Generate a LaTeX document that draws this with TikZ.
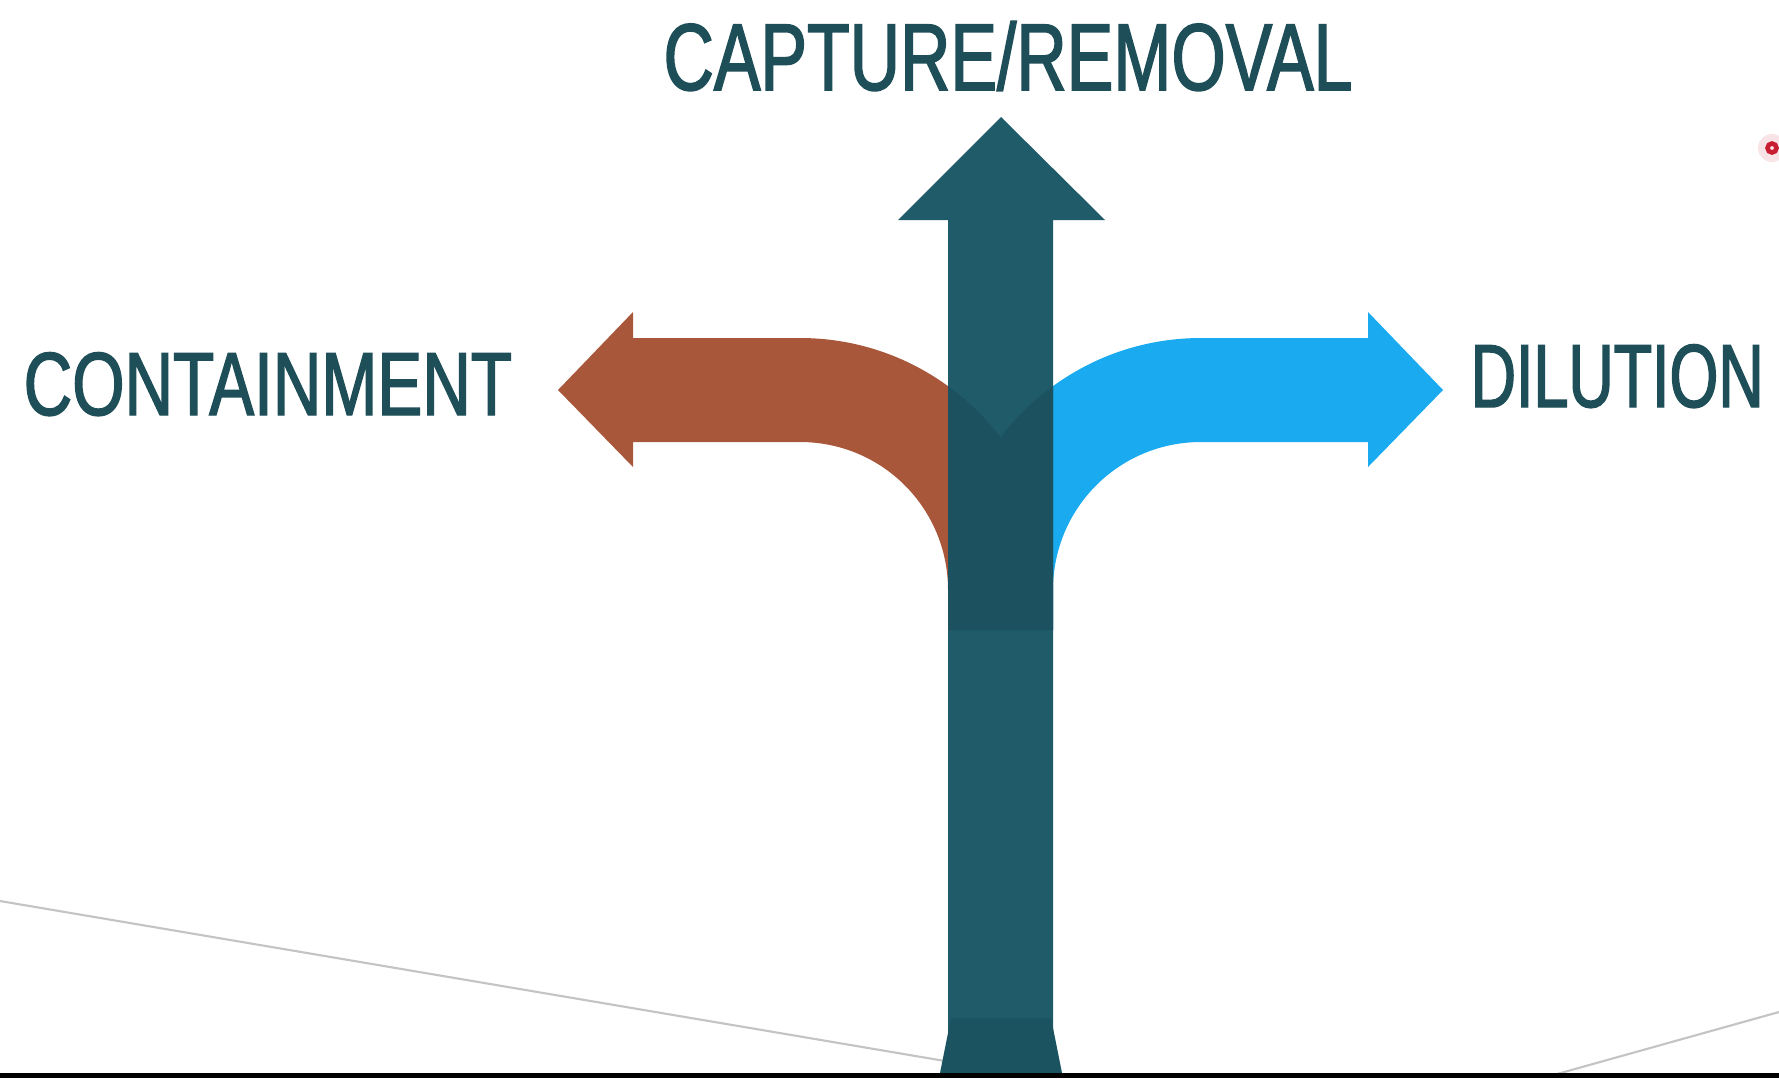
\documentclass[tikz,border=0pt]{standalone}
\usepackage{fontspec}
\newfontfamily\labelfont[FakeStretch=0.75,FakeBold=1.6]{Liberation Sans}
\newfontfamily\titlelabelfont[FakeStretch=0.735,FakeBold=1.6]{Liberation Sans}
\newfontfamily\narrowlabelfont[FakeStretch=0.70,FakeBold=1.6]{Liberation Sans}

\definecolor{shaftteal}{RGB}{32,91,106}
\definecolor{overlapteal}{RGB}{28,81,95}
\definecolor{bandteal}{RGB}{27,83,97}
\definecolor{containbrown}{RGB}{169,87,58}
\definecolor{dilutesky}{RGB}{26,170,240}
\definecolor{labelteal}{RGB}{30,78,88}
\definecolor{guidegray}{RGB}{196,196,196}
\definecolor{baseline}{RGB}{43,43,43}
\definecolor{markred}{RGB}{200,30,50}

% outlines of the two bent arrows (pixel-like units, y pointing down)
\newcommand{\containpath}{(558,390) -- (633,312) -- (633,338) -- (800,338)
  .. controls (939,338) and (1052,451) .. (1052,590) -- (1052,630) -- (948,630)
  -- (948,590) .. controls (948,508) and (882,442) .. (800,442) -- (633,442)
  -- (633,467) -- cycle}
\newcommand{\dilutepath}{(1443,390) -- (1368,312) -- (1368,338) -- (1201,338)
  .. controls (1062,338) and (949,451) .. (949,590) -- (949,630) -- (1053,630)
  -- (1053,590) .. controls (1053,508) and (1119,442) .. (1201,442) -- (1368,442)
  -- (1368,467) -- cycle}

\tikzset{
  caption/.style={inner sep=0pt, text=labelteal, font=\labelfont\fontsize{25.5}{30}\selectfont},
  titlecaption/.style={caption, font=\titlelabelfont\fontsize{27}{32}\selectfont},
  narrowcaption/.style={caption, font=\narrowlabelfont\fontsize{25.5}{30}\selectfont},
  guide/.style={draw=guidegray, line width=0.6pt},
}

\begin{document}
\begin{tikzpicture}[x=0.01cm,y=-0.01cm]
  \fill[white] (0,0) rectangle (1779,1078);
  \useasboundingbox (0,0) rectangle (1779,1078);

  % faint guide lines near the bottom
  \coordinate (gl1) at (0,901);
  \coordinate (gl2) at (945,1061);
  \coordinate (gr1) at (1557,1074);
  \coordinate (gr2) at (1779,1012);
  \draw[guide] (gl1) -- (gl2);
  \draw[guide] (gr1) -- (gr2);

  % bent arrows
  \fill[containbrown] \containpath;
  \fill[dilutesky] \dilutepath;

  % main upward arrow
  \fill[shaftteal] (948,1072) -- (948,220) -- (898,220) -- (1001,117)
    -- (1105,220) -- (1053,220) -- (1053,1072) -- cycle;

  % darker band where the bent arrows run under the shaft
  \begin{scope}
    \clip (948,220) rectangle (1053,1072);
    \fill[overlapteal] \containpath;
    \fill[overlapteal] \dilutepath;
  \end{scope}

  % flared foot of the shaft
  \fill[bandteal] (951,1018) -- (1051,1018) -- (1062,1073) -- (940,1073) -- cycle;

  % dark strip along the bottom edge
  \fill[baseline] (0,1073) rectangle (1779,1078);

  % labels
  \node[titlecaption, anchor=base] (capture) at (1008,90) {CAPTURE/REMOVAL};
  \node[caption, anchor=base west] (contain) at (23,415) {CONTAINMENT};
  \node[narrowcaption, anchor=base west] (dilution) at (1470,407) {DILUTION};

  % small red marker at the right edge
  \fill[markred, opacity=0.12] (1772,148) circle[radius=0.14cm];
  \node[circle, draw=markred, line width=1.3pt, inner sep=0pt,
        minimum size=0.09cm] (marker) at (1772,148) {};
\end{tikzpicture}
\end{document}
